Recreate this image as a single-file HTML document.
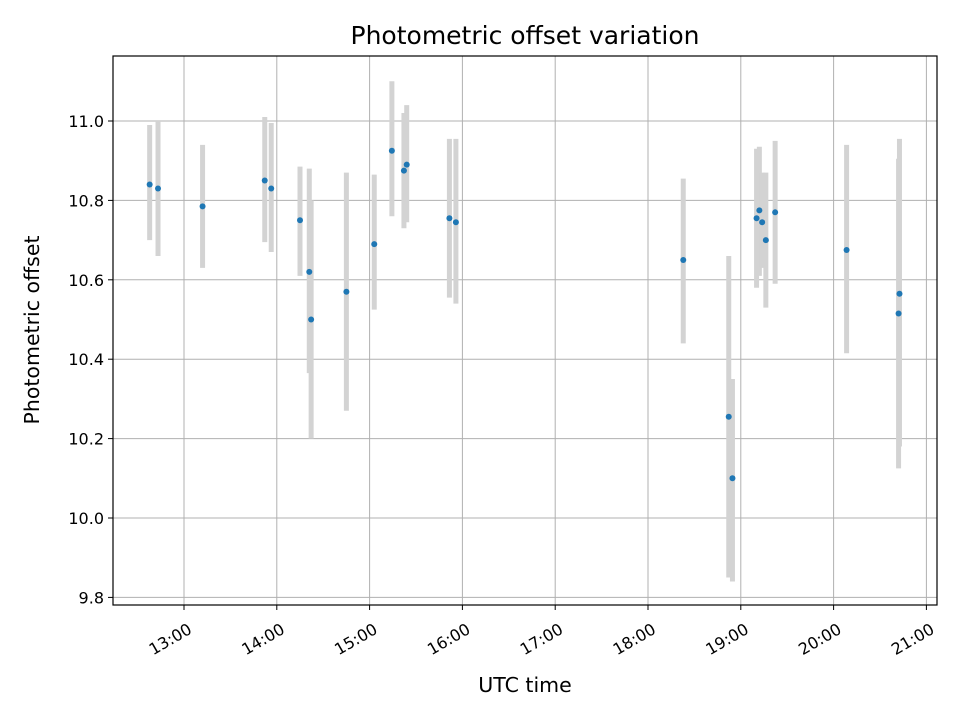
<!DOCTYPE html>
<html><head><meta charset="utf-8"><style>
body{margin:0;background:#fff;}
svg{font-family:"DejaVu Sans","Liberation Sans",sans-serif;}
</style></head><body>
<svg id="chart" width="960" height="720" viewBox="0 0 960 720">
<rect width="960" height="720" fill="#fff"/>
<g id="grid"></g>
<g id="bars"></g>
<g id="pts"></g>
<rect x="113" y="56" width="824" height="549" fill="none" stroke="#000" stroke-width="1.2"/>
<g id="ticks"></g>
<text x="525" y="44" font-size="25" text-anchor="middle">Photometric offset variation</text>
<text x="525" y="692" font-size="20.5" text-anchor="middle">UTC time</text>
<text transform="translate(39,330) rotate(-90)" font-size="20.5" text-anchor="middle">Photometric offset</text>
</svg>
<script>
const times=[12.63,12.72,13.20,13.87,13.94,14.25,14.35,14.37,14.75,15.05,15.24,15.37,15.40,15.86,15.93,18.38,18.87,18.91,19.17,19.20,19.23,19.27,19.37,20.14,20.71,20.70];
const values=[10.84,10.83,10.785,10.85,10.83,10.75,10.62,10.50,10.57,10.69,10.925,10.875,10.89,10.755,10.745,10.65,10.255,10.10,10.755,10.775,10.745,10.70,10.77,10.675,10.565,10.515];
const errHigh=[10.99,11.0,10.94,11.01,10.995,10.885,10.88,10.80,10.87,10.865,11.10,11.02,11.04,10.955,10.955,10.855,10.66,10.35,10.93,10.935,10.87,10.87,10.95,10.94,10.955,10.905];
const errLow=[10.70,10.66,10.63,10.695,10.67,10.61,10.365,10.20,10.27,10.525,10.76,10.73,10.745,10.555,10.54,10.44,9.85,9.84,10.58,10.61,10.63,10.53,10.59,10.415,10.18,10.125];
const xTicks=[13,14,15,16,17,18,19,20,21];
const xTickLabels=["13:00","14:00","15:00","16:00","17:00","18:00","19:00","20:00","21:00"];
const yTicks=[9.8,10.0,10.2,10.4,10.6,10.8,11.0];
const yTickLabels=["9.8","10.0","10.2","10.4","10.6","10.8","11.0"];
const NS="http://www.w3.org/2000/svg";
const X=h=>184+(h-13)*92.8;
const Y=v=>121+(11-v)*397;
function mk(tag,attrs,parent){const e=document.createElementNS(NS,tag);for(const k in attrs)e.setAttribute(k,attrs[k]);parent.appendChild(e);return e;}
const grid=document.getElementById('grid'),ticks=document.getElementById('ticks'),bars=document.getElementById('bars'),pts=document.getElementById('pts');
xTicks.forEach((t,i)=>{
  const x=X(t);
  let g=mk('line',{x1:x,x2:x,y1:56,y2:605,stroke:'#b0b0b0','stroke-width':1},grid);
  
  let tk=mk('line',{x1:x,x2:x,y1:605,y2:610,stroke:'#000','stroke-width':1},ticks);
  
  let tx=mk('text',{transform:`translate(${x+3},${622}) rotate(-30)`,'font-size':16,'text-anchor':'end','dominant-baseline':'hanging'},ticks);
  tx.textContent=xTickLabels[i];
  
});
yTicks.forEach((t,i)=>{
  const y=Y(t);
  let g=mk('line',{x1:113,x2:937,y1:y,y2:y,stroke:'#b0b0b0','stroke-width':1},grid);
  
  let tk=mk('line',{x1:108,x2:113,y1:y,y2:y,stroke:'#000','stroke-width':1},ticks);
  
  let tx=mk('text',{x:104,y:y+6,'font-size':16,'text-anchor':'end'},ticks);
  tx.textContent=yTickLabels[i];
  
});
times.forEach((t,i)=>{
  const x=X(t);
  let b=mk('line',{x1:x,x2:x,y1:Y(errHigh[i]),y2:Y(errLow[i]),stroke:'#d3d3d3','stroke-width':5},bars);
  
  let c=mk('circle',{cx:x,cy:Y(values[i]),r:3,fill:'#1f77b4'},pts);
  
});
</script>
</body></html>
